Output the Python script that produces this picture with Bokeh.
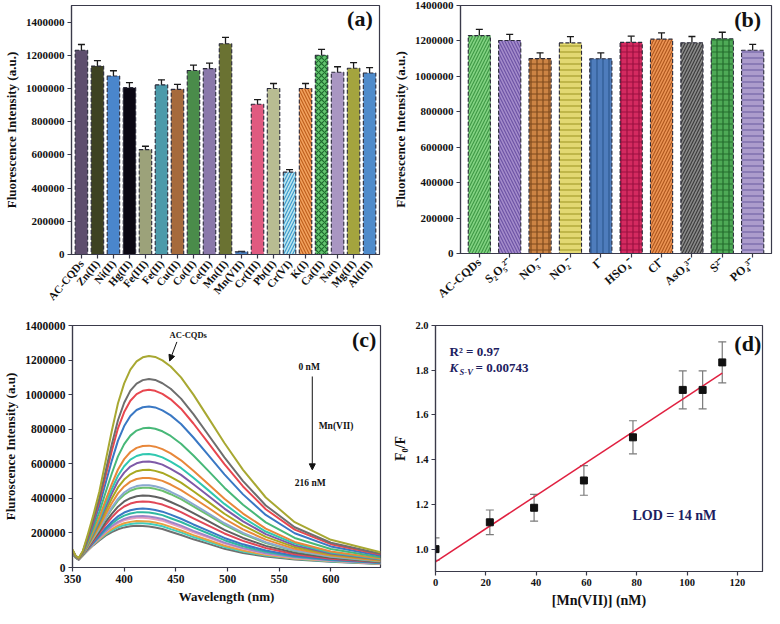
import numpy as np
from bokeh.plotting import figure
from bokeh.models import (ColumnDataSource, FactorRange, Range1d, Whisker, TeeHead,
                          Label, Arrow, NormalHead, FixedTicker, NumeralTickFormatter)
from bokeh.layouts import column, row
from bokeh.embed import file_html
from bokeh.resources import INLINE

# ---------------- data ----------------
ions_a = ["AC-CQDs", "Zn(II)", "Ni(II)", "Hg(II)", "Fe(III)", "Fe(II)", "Cu(II)", "Co(II)",
          "Ce(II)", "Mn(II)", "Mn(VII)", "Cr(III)", "Pb(II)", "Cr(VI)", "K(I)", "Ca(II)",
          "Na(I)", "Mg(II)", "Al(III)"]
intensity_a = [1230000, 1135000, 1075000, 1005000, 632000, 1022000, 995000, 1108000,
               1120000, 1270000, 16000, 905000, 1000000, 496000, 1000000, 1200000,
               1098000, 1122000, 1093000]
error_a = [35000, 33000, 32000, 30000, 20000, 30000, 30000, 33000, 33000, 38000,
           3000, 28000, 30000, 15000, 30000, 36000, 33000, 34000, 33000]

anions_b = ["AC-CQDs", "S\u2082O\u2085\u00b2\u207b", "NO\u2083\u207b", "NO\u2082\u207b", "I\u207b",
            "HSO\u2084\u207b", "Cl\u207b", "AsO\u2084\u00b3\u207b", "S\u00b2\u207b", "PO\u2084\u00b3\u207b"]
intensity_b = [1230000, 1202000, 1100000, 1189000, 1099000, 1192000, 1210000, 1190000,
               1212000, 1147000]
error_b = [35000, 35000, 33000, 35000, 33000, 35000, 35000, 35000, 37000, 33000]

wavelength_c = [350, 353, 356, 360, 365, 370, 376, 382, 388, 394, 400, 406, 412, 418, 424,
                430, 437, 445, 455, 467, 481, 497, 515, 537, 565, 600, 648]
# intensities in thousands (a.u.), from 0 nM (AC-CQDs) down to 216 nM Mn(VII)
spectra_c_k = [
    [105, 68, 55, 95, 195, 300, 440, 615, 790, 950, 1065, 1145, 1192, 1216, 1224, 1218, 1198, 1163, 1100, 1000, 870, 720, 565, 405, 262, 160, 88],
    [102, 67, 54, 92, 182, 277, 402, 557, 711, 852, 953, 1023, 1064, 1084, 1091, 1085, 1066, 1034, 977, 887, 771, 637, 500, 359, 233, 143, 79],
    [100, 66, 53, 90, 176, 266, 384, 529, 674, 805, 899, 965, 1003, 1022, 1028, 1022, 1004, 973, 919, 833, 724, 598, 469, 337, 219, 135, 75],
    [98, 65, 52, 88, 167, 249, 356, 487, 617, 734, 818, 877, 911, 927, 932, 926, 909, 880, 830, 752, 653, 539, 423, 304, 198, 122, 68],
    [95, 64, 51, 85, 155, 228, 321, 434, 544, 643, 714, 763, 792, 805, 809, 803, 788, 761, 716, 648, 562, 462, 363, 261, 171, 107, 59],
    [93, 63, 50, 82, 145, 210, 291, 388, 482, 567, 627, 668, 692, 703, 705, 699, 685, 660, 620, 560, 485, 398, 312, 225, 148, 93, 52],
    [92, 62, 50, 81, 140, 201, 277, 367, 454, 531, 586, 624, 645, 655, 657, 651, 637, 613, 576, 519, 449, 368, 288, 208, 138, 87, 49],
    [91, 62, 49, 80, 136, 194, 265, 348, 428, 499, 549, 584, 603, 612, 613, 607, 595, 571, 536, 482, 417, 341, 267, 193, 128, 81, 46],
    [90, 61, 49, 78, 132, 185, 251, 327, 399, 463, 509, 539, 557, 564, 565, 559, 547, 524, 491, 441, 381, 311, 244, 177, 118, 75, 43],
    [89, 61, 49, 77, 127, 177, 238, 307, 372, 429, 469, 497, 512, 518, 518, 512, 501, 480, 448, 402, 347, 282, 221, 161, 108, 69, 39],
    [88, 60, 48, 76, 123, 170, 226, 288, 347, 397, 434, 458, 471, 476, 476, 470, 459, 438, 409, 366, 315, 256, 200, 146, 98, 64, 37],
    [87, 60, 48, 76, 122, 167, 221, 282, 338, 387, 421, 444, 457, 462, 461, 455, 444, 424, 395, 353, 304, 247, 193, 141, 95, 62, 35],
    [86, 60, 48, 75, 117, 159, 208, 262, 310, 352, 382, 401, 412, 416, 415, 409, 399, 379, 352, 314, 270, 218, 171, 125, 85, 56, 32],
    [85, 60, 47, 74, 114, 153, 198, 247, 290, 327, 353, 370, 379, 382, 380, 374, 364, 346, 320, 284, 244, 197, 154, 113, 77, 51, 30],
    [84, 59, 47, 73, 110, 146, 186, 228, 265, 296, 318, 331, 339, 341, 339, 333, 323, 306, 282, 249, 213, 171, 134, 98, 68, 46, 27],
    [84, 59, 47, 72, 108, 142, 180, 219, 253, 281, 300, 312, 319, 320, 318, 312, 303, 285, 263, 232, 198, 158, 123, 91, 64, 43, 26],
    [83, 59, 47, 72, 106, 138, 174, 209, 240, 264, 281, 292, 297, 298, 295, 289, 281, 263, 242, 212, 181, 144, 112, 83, 59, 41, 24],
    [83, 59, 46, 71, 105, 136, 171, 205, 234, 257, 273, 282, 288, 288, 285, 279, 271, 254, 233, 204, 174, 138, 108, 80, 57, 39, 23],
    [83, 58, 46, 71, 103, 133, 165, 197, 222, 242, 256, 264, 269, 268, 266, 260, 251, 235, 214, 187, 159, 126, 98, 73, 52, 37, 22],
    [82, 58, 46, 70, 102, 131, 162, 191, 214, 233, 245, 252, 256, 256, 253, 247, 239, 222, 203, 176, 150, 118, 92, 69, 50, 35, 21],
    [82, 58, 46, 70, 100, 128, 157, 184, 205, 221, 232, 238, 241, 240, 237, 231, 223, 207, 188, 163, 138, 108, 84, 63, 46, 33, 20],
]

conc_d = [0, 21.6, 39.2, 59.0, 78.5, 98.3, 106.2, 114.0]
ratio_d = [1.00, 1.12, 1.185, 1.307, 1.50, 1.712, 1.712, 1.835]
err_d = [0.05, 0.055, 0.06, 0.066, 0.074, 0.085, 0.085, 0.092]

# ---------------- styles ----------------
FONT = "Liberation Serif"
AX = "#3a3a4a"
TXT = "#111111"

colors_a = ["#5e4e6e", "#3e4222", "#4a86cc", "#0c0814", "#9ca27a", "#4b9aaa", "#a66a3c",
            "#4a8c4a", "#8a78aa", "#6a7232", "#4a82c4", "#e05a80", "#b8bc92", "#bfe6ee",
            "#f2a25e", "#62c46e", "#a996c2", "#a4a43e", "#4f8bcb"]
hatch_a = [" "] * 13 + ["/", "\\", "x"] + [" "] * 3
hatch_color_a = ["#000000"] * 13 + ["#3e9ccf", "#c0601e", "#1e6a2e"] + ["#000000"] * 3

colors_b = ["#82d282", "#a48cca", "#cc8444", "#e2d872", "#4e7cbc", "#d42a60", "#ec9454",
            "#8a8a8a", "#4eaa56", "#ac9ccc"]
hatch_b = ["/", "\\", "+", "-", "|", "+", "/", "/", "+", "-"]
hatch_color_b = ["#3f9a46", "#6e54a6", "#7e4a1c", "#a8a02c", "#2c5890", "#9a1040",
                 "#b0581e", "#3c3c3c", "#236b2c", "#7464a8"]

line_colors_c = ["#a8a832", "#6e6e6e", "#e8474f", "#3a78c4", "#48b878", "#e8873a", "#30c8b0",
                 "#7e5aa8", "#a8a820", "#e88a3a", "#8aa8d0", "#6cc070", "#606060", "#e04858",
                 "#3a78c4", "#30b8a0", "#a084c8", "#e8a0c0", "#e8a040", "#40d0c0", "#707070"]


def style(p, xsize="11px", ysize="11px", label_size="13px"):
    p.outline_line_color = AX
    p.outline_line_width = 1.2
    p.xgrid.visible = False
    p.ygrid.visible = False
    p.background_fill_color = "white"
    p.border_fill_color = "white"
    for ax in p.axis:
        ax.axis_line_color = AX
        ax.axis_line_width = 1.2
        ax.major_tick_line_color = AX
        ax.major_tick_line_width = 1.2
        ax.minor_tick_line_color = None
        ax.major_tick_in = 0
        ax.major_tick_out = 4
        ax.major_label_text_font = FONT
        ax.major_label_text_font_style = "bold"
        ax.major_label_text_color = TXT
        ax.axis_label_text_font = FONT
        ax.axis_label_text_font_style = "bold"
        ax.axis_label_text_color = TXT
        ax.axis_label_text_font_size = label_size
        ax.major_label_standoff = 3
        ax.axis_label_standoff = 4
    p.xaxis.major_label_text_font_size = xsize
    p.yaxis.major_label_text_font_size = ysize


def tag(p, x, y, text, size="22px"):
    p.add_layout(Label(x=x, y=y, text=text, text_font=FONT, text_font_style="bold",
                       text_font_size=size, text_color=TXT, text_align="right",
                       text_baseline="middle"))


def bar_panel(cats, vals, errs, fills, hatches, hcolors, width, ymax, dims, angle, tagtext, tagx, tagy, xsize):
    fw, fh, bl, br, bt, bb = dims
    p = figure(output_backend="svg", toolbar_location=None,
               x_range=FactorRange(factors=cats, range_padding=0.12, range_padding_units="absolute"),
               y_range=Range1d(0, ymax), frame_width=fw, frame_height=fh,
               min_border_left=bl, min_border_right=br, min_border_top=bt, min_border_bottom=bb)
    src = ColumnDataSource(dict(
        x=cats, top=vals,
        upper=[v + e for v, e in zip(vals, errs)],
        lower=[v - e for v, e in zip(vals, errs)],
        fill=fills, hatch=hatches, hcolor=hcolors))
    p.vbar(x="x", top="top", width=width, source=src, fill_color="fill",
           line_color="#2a2a3a", line_dash="4 2", line_width=1.1,
           hatch_pattern="hatch", hatch_color="hcolor", hatch_scale=6, hatch_weight=1.2)
    head = dict(size=7, line_color="#1a1a1a", line_width=1.3)
    p.add_layout(Whisker(source=src, base="x", upper="upper", lower="lower",
                         line_color="#1a1a1a", line_width=1.3,
                         upper_head=TeeHead(**head), lower_head=TeeHead(**head)))
    style(p, xsize=xsize)
    p.yaxis.ticker = FixedTicker(ticks=list(range(0, 1400001, 200000)))
    p.yaxis.formatter = NumeralTickFormatter(format="0")
    p.yaxis.axis_label = "Fluorescence Intensity (a.u.)"
    p.xaxis.major_label_orientation = angle
    tag(p, tagx, tagy, tagtext)
    return p


pa = bar_panel(ions_a, intensity_a, error_a, colors_a, hatch_a, hatch_color_a, 0.78,
               1500000, (308, 249, 64, 10, 5, 58), 0.87, "(a)", 18.7, 1424000, "11px")
pb = bar_panel(anions_b, intensity_b, error_b, colors_b, hatch_b, hatch_color_b, 0.73,
               1400000, (311, 248, 68, 3, 5, 59), 0.72, "(b)", 9.78, 1321000, "12px")

# ---------------- (c) ----------------
pc = figure(output_backend="svg", toolbar_location=None,
            x_range=Range1d(350, 648), y_range=Range1d(0, 1400000),
            frame_width=308, frame_height=242,
            min_border_left=70, min_border_right=4, min_border_top=13, min_border_bottom=41)
xs = [wavelength_c for _ in spectra_c_k]
ys = [[v * 1000 for v in s] for s in spectra_c_k]
order = list(range(len(ys)))[::-1]
pc.multi_line(xs=[xs[i] for i in order], ys=[ys[i] for i in order],
              line_color=[line_colors_c[i] for i in order], line_width=2,
              line_join="round")
style(pc, xsize="11.5px", ysize="11.5px")
pc.yaxis.ticker = FixedTicker(ticks=list(range(0, 1400001, 200000)))
pc.yaxis.formatter = NumeralTickFormatter(format="0")
pc.xaxis.ticker = FixedTicker(ticks=[350, 400, 450, 500, 550, 600])
pc.yaxis.axis_label = "Fluroscence Intensity (a.u)"
pc.xaxis.axis_label = "Wavelength (nm)"
pc.xaxis.axis_label_standoff = 3


def note(p, x, y, text, size="9.5px", align="center", color=TXT, style_="bold", xo=0, yo=0):
    p.add_layout(Label(x=x, y=y, text=text, text_font=FONT, text_font_style=style_,
                       text_font_size=size, text_color=color, text_align=align,
                       text_baseline="middle", x_offset=xo, y_offset=yo))


note(pc, 462, 1345000, "AC-CQDs", size="8.5px")
pc.add_layout(Arrow(x_start=451, y_start=1305000, x_end=444, y_end=1195000, line_width=1,
                    line_color="#111111",
                    end=NormalHead(size=6, fill_color="#111111", line_color="#111111")))
note(pc, 579, 1161000, "0 nM")
pc.add_layout(Arrow(x_start=582, y_start=1105000, x_end=582, y_end=565000, line_width=1,
                    line_color="#111111",
                    end=NormalHead(size=6, fill_color="#111111", line_color="#111111")))
note(pc, 605, 820000, "Mn(VII)")
note(pc, 580, 491000, "216 nM")
tag(pc, 644, 1320000, "(c)")

# ---------------- (d) ----------------
pd_ = figure(output_backend="svg", toolbar_location=None,
             x_range=Range1d(0, 130), y_range=Range1d(0.9, 2.0),
             frame_width=327, frame_height=246,
             min_border_left=51, min_border_right=4, min_border_top=7, min_border_bottom=43)
src_d = ColumnDataSource(dict(x=conc_d, y=ratio_d,
                              upper=[r + e for r, e in zip(ratio_d, err_d)],
                              lower=[r - e for r, e in zip(ratio_d, err_d)]))
ghead = dict(size=8, line_color="#7a7a7a", line_width=1.2)
pd_.add_layout(Whisker(source=src_d, base="x", upper="upper", lower="lower",
                       line_color="#7a7a7a", line_width=1.2,
                       upper_head=TeeHead(**ghead), lower_head=TeeHead(**ghead)))
slope, intercept = np.polyfit(conc_d, ratio_d, 1)
fx = [min(conc_d), max(conc_d)]
pd_.line(fx, [intercept + slope * v for v in fx], line_color="#e02040", line_width=1.5)
pd_.scatter(x="x", y="y", source=src_d, marker="square", size=7, color="#111111")
style(pd_, xsize="10.5px", ysize="10.5px", label_size="14px")
pd_.xaxis.ticker = FixedTicker(ticks=[0, 20, 40, 60, 80, 100, 120])
pd_.yaxis.ticker = FixedTicker(ticks=[1.0, 1.2, 1.4, 1.6, 1.8, 2.0])
pd_.yaxis.formatter = NumeralTickFormatter(format="0.0")
pd_.xaxis.axis_label = "[Mn(VII)] (nM)"
pd_.yaxis.axis_label = "F\u2080/F"
NAVY = "#1c2060"
note(pd_, 5.6, 1.884, "R\u00b2 = 0.97", size="13px", align="left", color=NAVY)
note(pd_, 5.6, 1.81, "K", size="13px", align="left", color=NAVY, style_="bold italic")
note(pd_, 5.6, 1.81, "S-V", size="8.5px", align="left", color=NAVY, style_="bold italic", xo=10, yo=-4)
note(pd_, 5.6, 1.81, "= 0.00743", size="13px", align="left", color=NAVY, xo=26)
note(pd_, 78.3, 1.149, "LOD = 14 nM", size="14px", align="left", color=NAVY)
tag(pd_, 129.5, 1.92, "(d)")

layout = column(row(pa, pb), row(pc, pd_))
open("out.html", "w").write(file_html(layout, INLINE))
